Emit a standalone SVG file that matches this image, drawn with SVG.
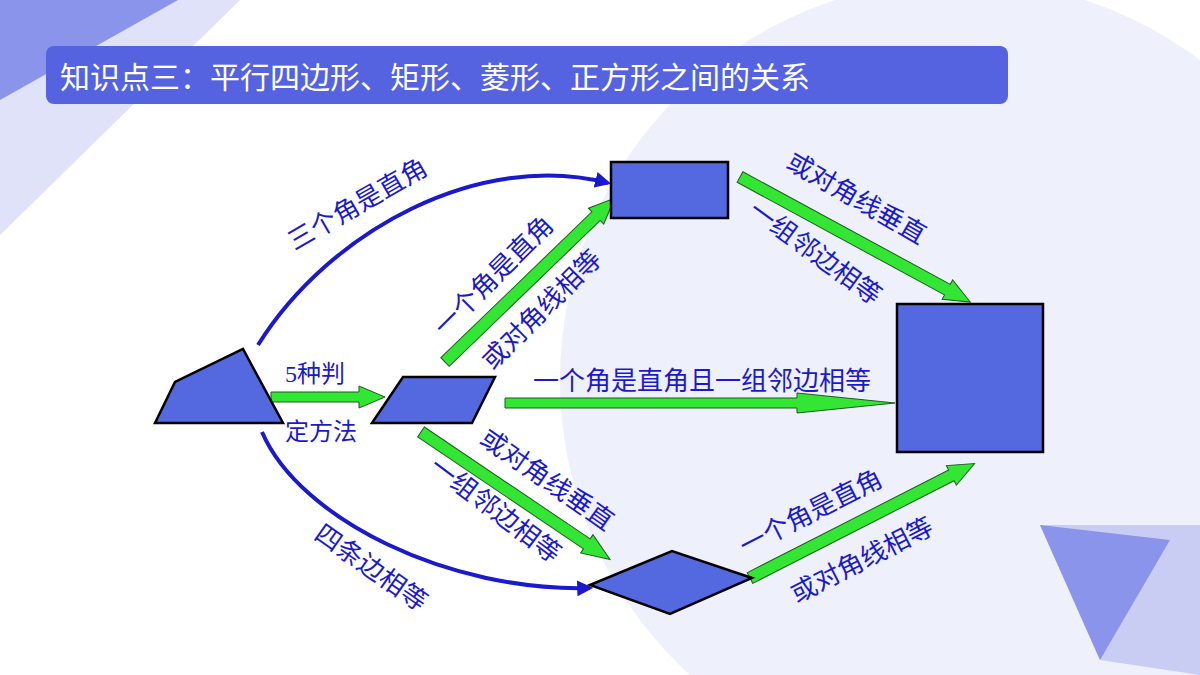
<svg xmlns="http://www.w3.org/2000/svg" width="1200" height="675" viewBox="0 0 1200 675">
<defs>
<style>
.s{fill:#5468e0;stroke:#000;stroke-width:2.5}
.g{fill:#33e633;stroke:#1a5e1a;stroke-width:1}
.c{fill:none;stroke:#1a1acc;stroke-width:4}
.t{font-family:"Noto Sans CJK SC","Liberation Sans",sans-serif;font-size:26px;fill:#1a1acc;text-anchor:middle}
</style>
<marker id="ah" viewBox="0 0 10 10" refX="8" refY="5" markerWidth="4" markerHeight="4" orient="auto"><path d="M0,0L10,5L0,10z" fill="#1a1acc"/></marker>
</defs>
<rect width="1200" height="675" fill="#fff"/>
<polygon points="0,0 240,0 0,235" fill="#dfe2f8"/>
<polygon points="0,0 178,0 0,100" fill="#8a94ea"/>
<circle cx="960" cy="380" r="400" fill="#eef0fb"/>
<polygon points="1040,525 1200,525 1200,675 1100,660" fill="#c9cdf4"/>
<polygon points="1040,525 1170,540 1100,660" fill="#8a94ea"/>
<g id="title"><rect x="46" y="46" width="962" height="58" rx="8" fill="#5563e0"/>
<text x="60" y="88" font-family="Noto Sans CJK SC,sans-serif" font-size="30" fill="#fff">知识点三：平行四边形、矩形、菱形、正方形之间的关系</text></g>
<g id="connectors">
<path class="c" d="M258,345 C330,230 480,150 608,183" marker-end="url(#ah)"/>
<path class="c" d="M262,432 C300,520 450,592 590,588" marker-end="url(#ah)"/>
<polygon class="g" transform="translate(271,397)" points="0,-5 88,-5 88,-11 114,0 88,11 88,5 0,5"/>
<polygon class="g" transform="translate(445,362) rotate(-44)" points="0,-6 210,-6 210,-11 236,0 210,11 210,6 0,6"/>
<polygon class="g" transform="translate(740,177) rotate(28.5)" points="0,-6 236,-6 236,-11 262,0 236,11 236,6 0,6"/>
<polygon class="g" transform="translate(505,403)" points="0,-5 292,-5 292,-10 390,0 292,10 292,5 0,5"/>
<polygon class="g" transform="translate(421,432) rotate(34)" points="0,-6 200,-6 200,-11 228,0 200,11 200,6 0,6"/>
<polygon class="g" transform="translate(750,578) rotate(-27)" points="0,-6 226,-6 226,-11 252,0 226,11 226,6 0,6"/>
</g>
<g id="quad"><polygon class="s" points="155,423 175,382 243,349 283,423"/></g>
<g id="parallelogram"><polygon class="s" points="372,423 403,377 495,377 472,423"/></g>
<g id="rectangle"><rect class="s" x="611" y="162" width="117" height="56"/></g>
<g id="square"><rect class="s" x="897" y="304" width="146" height="148"/></g>
<g id="rhombus"><polygon class="s" points="590,585 672,551 752,578 670,614"/></g>
<g id="labels">
<text class="t" transform="translate(362,212) rotate(-30)">三个角是直角</text>
<text x="285" y="382" font-family="Liberation Serif,serif" font-size="24" fill="#1a1acc">5<tspan font-family="Noto Sans CJK SC,sans-serif">种判</tspan></text>
<text x="285" y="440" font-family="Noto Sans CJK SC,sans-serif" font-size="24" fill="#1a1acc">定方法</text>
<text class="t" transform="translate(500,282) rotate(-45)">一个角是直角</text>
<text class="t" transform="translate(548,316) rotate(-45)">或对角线相等</text>
<text class="t" transform="translate(852,206) rotate(30)">或对角线垂直</text>
<text class="t" transform="translate(810,260) rotate(36)">一组邻边相等</text>
<text class="t" x="702" y="390">一个角是直角且一组邻边相等</text>
<text class="t" transform="translate(542,487) rotate(35)">或对角线垂直</text>
<text class="t" transform="translate(490,517) rotate(37)">一组邻边相等</text>
<text class="t" transform="translate(366,575) rotate(35)">四条边相等</text>
<text class="t" transform="translate(815,520) rotate(-27)">一个角是直角</text>
<text class="t" transform="translate(866,568) rotate(-27)">或对角线相等</text>
</g>
</svg>
